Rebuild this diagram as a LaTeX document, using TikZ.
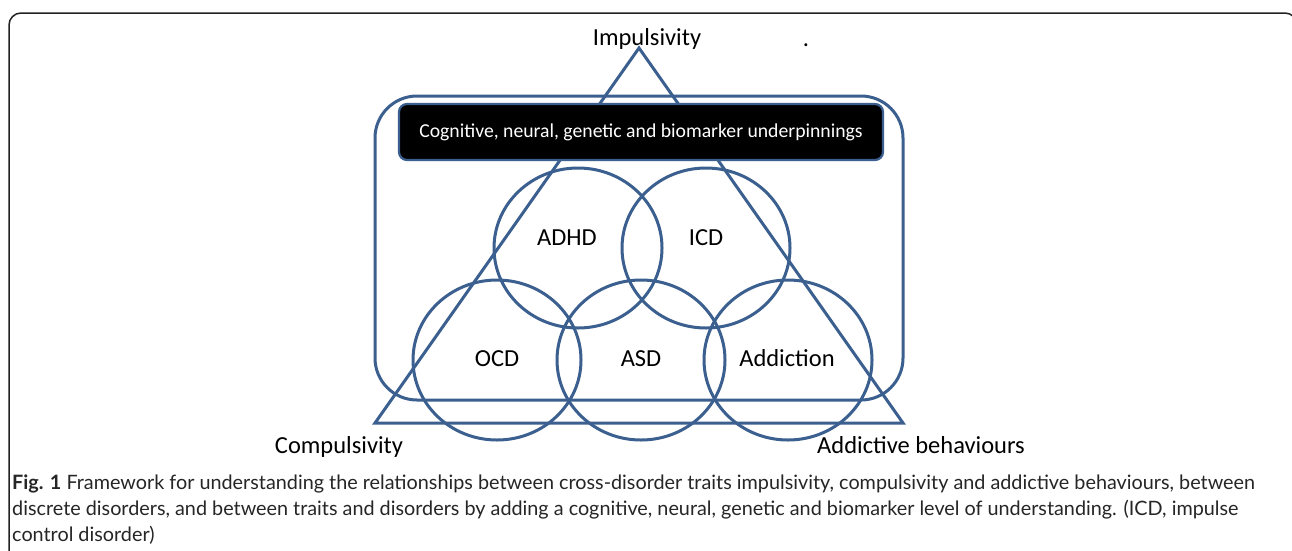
\documentclass[tikz,border=0pt]{standalone}
\usepackage{fontspec}
\setmainfont{Carlito}
\newfontfamily\capfont{Lato}
\usetikzlibrary{shapes.geometric}
\definecolor{lineblue}{HTML}{3B5F8E}
\definecolor{framegray}{HTML}{222222}
\begin{document}
\begin{tikzpicture}[x=1pt,y=-1pt,
  blueline/.style={draw=lineblue, line width=3pt},
  disorder/.style={blueline, ellipse, minimum width=168pt, minimum height=160pt, inner sep=0pt},
  lbl/.style={font=\fontsize{24.5}{28}\selectfont, text=black, inner sep=0pt},
  captext/.style={font=\capfont\fontsize{19.8}{22}\selectfont, text=black!85, inner sep=0pt, anchor=base west}]
\useasboundingbox (0,0) rectangle (1292,550);
\fill[white] (0,0) rectangle (1292,550);
\begin{scope}
\clip (0,0) rectangle (1292,550);
\draw[draw=framegray, line width=1.5pt, rounded corners=12pt] (9,13) rectangle (1297,600);
\end{scope}
% rounded frame
\draw[blueline, rounded corners=42pt] (375,96) rectangle (903,400);
% triangle
\coordinate (apex) at (639,48);
\coordinate (bl) at (375,423);
\coordinate (br) at (903,423);
\draw[blueline, line join=miter] (apex) -- (bl) -- (br) -- cycle;
% circles
\node[disorder] (adhd) at (578,248) {};
\node[disorder] (icd) at (706,248) {};
\node[disorder] (ocd) at (497,360) {};
\node[disorder] (asd) at (641,360) {};
\node[disorder] (addc) at (788,360) {};
% black box
\node[draw=lineblue, line width=2.2pt, fill=black, rounded corners=8pt, minimum width=484pt, minimum height=56pt, text=white, font=\fontsize{19.7}{22}\selectfont, inner sep=0pt] (under) at (641,132) {Cognitive, neural, genetic and biomarker underpinnings};
% labels
\node[lbl, anchor=base] (impl) at (647,45) {Impulsivity};
\node[lbl, anchor=base] (dot) at (806,46) {.};
\node[lbl, anchor=base] (compl) at (339,453) {Compulsivity};
\node[lbl, anchor=base] (addb) at (921,453) {Addictive behaviours};
\node[lbl, anchor=base] (tadhd) at (567,245) {ADHD};
\node[lbl, anchor=base] (ticd) at (706,245) {ICD};
\node[lbl, anchor=base] (tocd) at (497,366) {OCD};
\node[lbl, anchor=base] (tasd) at (641,366) {ASD};
\node[lbl, anchor=base] (taddc) at (787,366) {Addiction};
% caption
\node[captext] (c1) at (12,489) {\textbf{Fig. 1} Framework for understanding the relationships between cross-disorder traits impulsivity, compulsivity and addictive behaviours, between};
\node[captext] (c2) at (12,515) {discrete disorders, and between traits and disorders by adding a cognitive, neural, genetic and biomarker level of understanding. (ICD, impulse};
\node[captext] (c3) at (12,541) {control disorder)};
\end{tikzpicture}
\end{document}
